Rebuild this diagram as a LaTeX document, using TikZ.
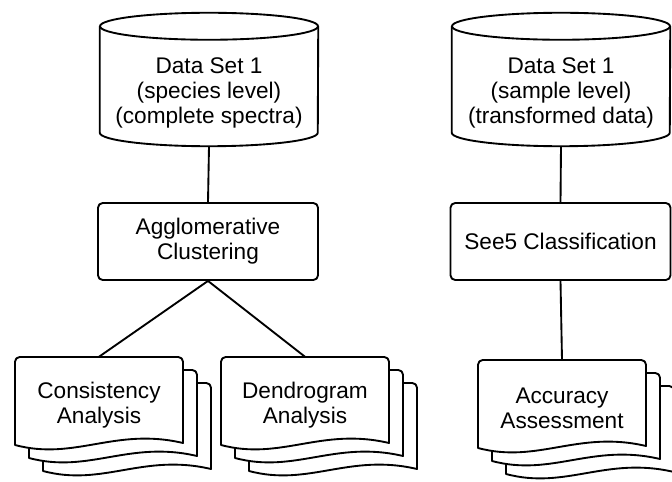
\documentclass[tikz,border=0pt]{standalone}
\usepackage{fontspec}
\setmainfont{Liberation Sans}
\usetikzlibrary{shapes.geometric, calc}
\tikzstyle{link} = [line width=1.6pt]
\tikzstyle{txt} = [align=center, font=\fontsize{19.3}{21.3}\selectfont]
\tikzstyle{dataset} = [rectangle, minimum width=6.54cm, minimum height=3.18cm, txt]
\tikzstyle{process} = [rectangle, rounded corners=4pt, draw, line width=1.6pt, minimum width=6.6cm, minimum height=2.31cm, txt]
\tikzstyle{report} = [rectangle, minimum width=5.04cm, minimum height=2.88cm, txt]
\tikzstyle{sheet} = [draw, fill=white, line width=1.6pt, line join=round]

% drum outline round a dataset node
\newcommand{\drum}[1]{%
  \draw[link] ($(#1.north west)+(0,-13.5)$) -- ($(#1.south west)+(0,-13.5)$)
    arc[start angle=180, end angle=360, x radius=3.27cm, y radius=0.405cm]
    -- ($(#1.north east)+(0,-13.5)$);
  \draw[link] ($(#1.north)+(0,-13.5)$) ellipse [x radius=3.27cm, y radius=0.405cm];
}

% three stacked pages, front page top left corner at (#1,#2)
\newcommand{\docstack}[2]{%
  \foreach \k in {2,1,0}
    \draw[sheet, shift={(#1+14*\k,#2+13*\k)}]
      (0,88) [rounded corners=4pt] -- (0,0) -- (168,0) -- (168,40) [sharp corners]
      -- (168,86) .. controls (100,70) and (60,104) .. (0,88) -- cycle;
}

\begin{document}
\begin{tikzpicture}[x=0.03cm, y=-0.03cm]
    \useasboundingbox (0,0) rectangle (672,482);

    % left branch
    \node at (209,93) [dataset](species) {Data Set 1\\(species level)\\(complete spectra)};
    \drum{species}
    \node at (208,241.5) [process](aggl) {Agglomerative\\Clustering};
    \docstack{15}{357}
    \docstack{221}{357}
    \node at (99,405) [report](consist) {Consistency\\Analysis};
    \node at (305,405) [report](dendro) {Dendrogram\\Analysis};

    % right branch
    \node at (561,93) [dataset](sample) {Data Set 1\\(sample level)\\(transformed data)};
    \drum{sample}
    \node at (560.5,241.5) [process](see5) {See5 Classification};
    \docstack{478}{360}
    \node at (562,408) [report](accur) {Accuracy\\Assessment};

    \draw[link] (species.south) -- (aggl.north);
    \draw[link] (aggl.south) -- (consist.north);
    \draw[link] (aggl.south) -- (dendro.north);
    \draw[link] (sample.south) -- (see5.north);
    \draw[link] (see5.south) -- (accur.north);

\end{tikzpicture}
\end{document}
